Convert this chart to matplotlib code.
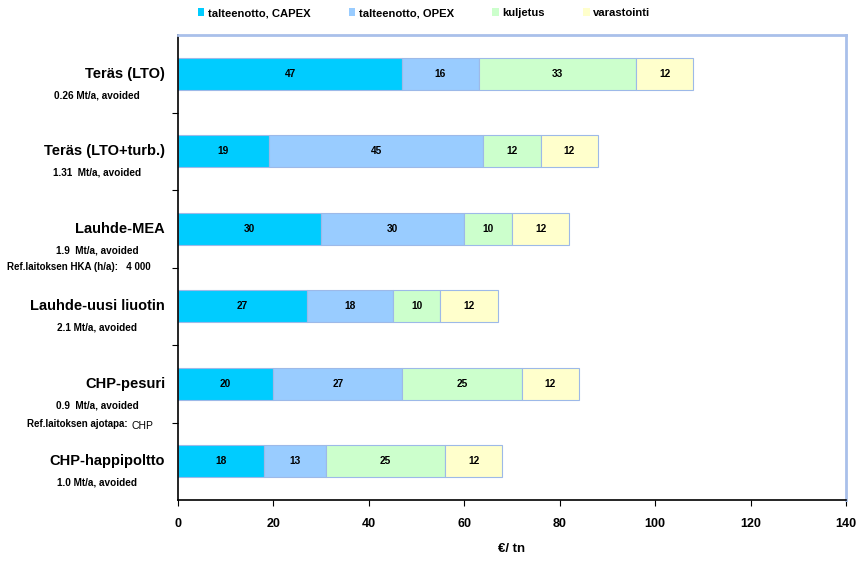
import matplotlib
matplotlib.use("Agg")
import matplotlib.pyplot as plt
import matplotlib.transforms as mtransforms
from matplotlib.patches import Patch

plt.rcParams['font.family'] = ['Liberation Sans', 'DejaVu Sans']
plt.rcParams['font.weight'] = 'bold'

categories = ["Teräs (LTO)", "Teräs (LTO+turb.)", "Lauhde-MEA",
              "Lauhde-uusi liuotin", "CHP-pesuri", "CHP-happipoltto"]
sublabels = ["0.26 Mt/a, avoided", "1.31  Mt/a, avoided", "1.9  Mt/a, avoided",
             "2.1 Mt/a, avoided", "0.9  Mt/a, avoided", "1.0 Mt/a, avoided"]
series = ["talteenotto, CAPEX", "talteenotto, OPEX", "kuljetus", "varastointi"]
capex = [47, 19, 30, 27, 20, 18]
opex = [16, 45, 30, 18, 27, 13]
kuljetus = [33, 12, 10, 10, 25, 25]
varastointi = [12, 12, 12, 12, 12, 12]
xticks = [0, 20, 40, 60, 80, 100, 120, 140]

colors = ["#00CCFF", "#99CCFF", "#CCFFCC", "#FFFFCC"]
edge = "#9DB9E8"

fig = plt.figure(figsize=(8.61, 5.65), dpi=100)
ax = fig.add_axes([178 / 861, 1 - 500 / 565, 668 / 861, 465 / 565])

ypos = list(range(len(categories)))
left = [0] * len(categories)
for name, vals, col in zip(series, [capex, opex, kuljetus, varastointi], colors):
    ax.barh(ypos, vals, left=left, height=0.41, color=col,
            edgecolor=edge, linewidth=0.8, label=name)
    for y, l, v in zip(ypos, left, vals):
        ax.text(l + v / 2, y, str(v), ha="center", va="center",
                fontsize=7.3, fontweight="bold")
    left = [l + v for l, v in zip(left, vals)]

ax.set_xlim(0, 140)
ax.set_ylim(len(categories) - 0.5, -0.5)
ax.set_xticks(xticks)
ax.set_xticklabels([str(t) for t in xticks], fontsize=9, fontweight="bold")
ax.set_yticks([i + 0.5 for i in range(len(categories) - 1)])
ax.set_yticklabels([])
ax.tick_params(axis="y", direction="out", length=4, width=0.8)
ax.tick_params(axis="x", direction="out", length=4, width=0.8, pad=9)
ax.set_xlabel("€/ tn", fontsize=9.5, fontweight="bold", labelpad=9)

for side in ["left", "bottom"]:
    ax.spines[side].set_color("black")
    ax.spines[side].set_linewidth(1.2)
for side in ["top", "right"]:
    ax.spines[side].set_color("#A9C0EA")
    ax.spines[side].set_linewidth(2)

# category names and sub-labels to the left of the axis
trans = mtransforms.blended_transform_factory(fig.transFigure, ax.transData)
for y, cat, sub in zip(ypos, categories, sublabels):
    ax.text(165 / 861, y, cat, transform=trans, ha="right", va="center",
            fontsize=10.5, fontweight="bold")
    ax.text(97 / 861, y + 0.28, sub, transform=trans, ha="center", va="center",
            fontsize=7.2, fontweight="bold")

ax.text(7 / 861, 2.5, "Ref.laitoksen HKA (h/a):   4 000", transform=trans,
        ha="left", va="center", fontsize=7, fontweight="bold")
ax.text(27 / 861, 4.52, "Ref.laitoksen ajotapa:", transform=trans,
        ha="left", va="center", fontsize=7, fontweight="bold")
ax.text(131 / 861, 4.55, "CHP", transform=trans,
        ha="left", va="center", fontsize=7.5, fontweight="normal")

handles = [Patch(facecolor=c, edgecolor="none") for c in colors]
fig.legend(handles, series, loc="center", bbox_to_anchor=(424 / 861, 1 - 13 / 565),
           ncol=4, frameon=False, fontsize=8.1, handlelength=0.6, handleheight=0.6,
           handletextpad=0.3, columnspacing=3.4)

fig.savefig("out.png", dpi=100)
